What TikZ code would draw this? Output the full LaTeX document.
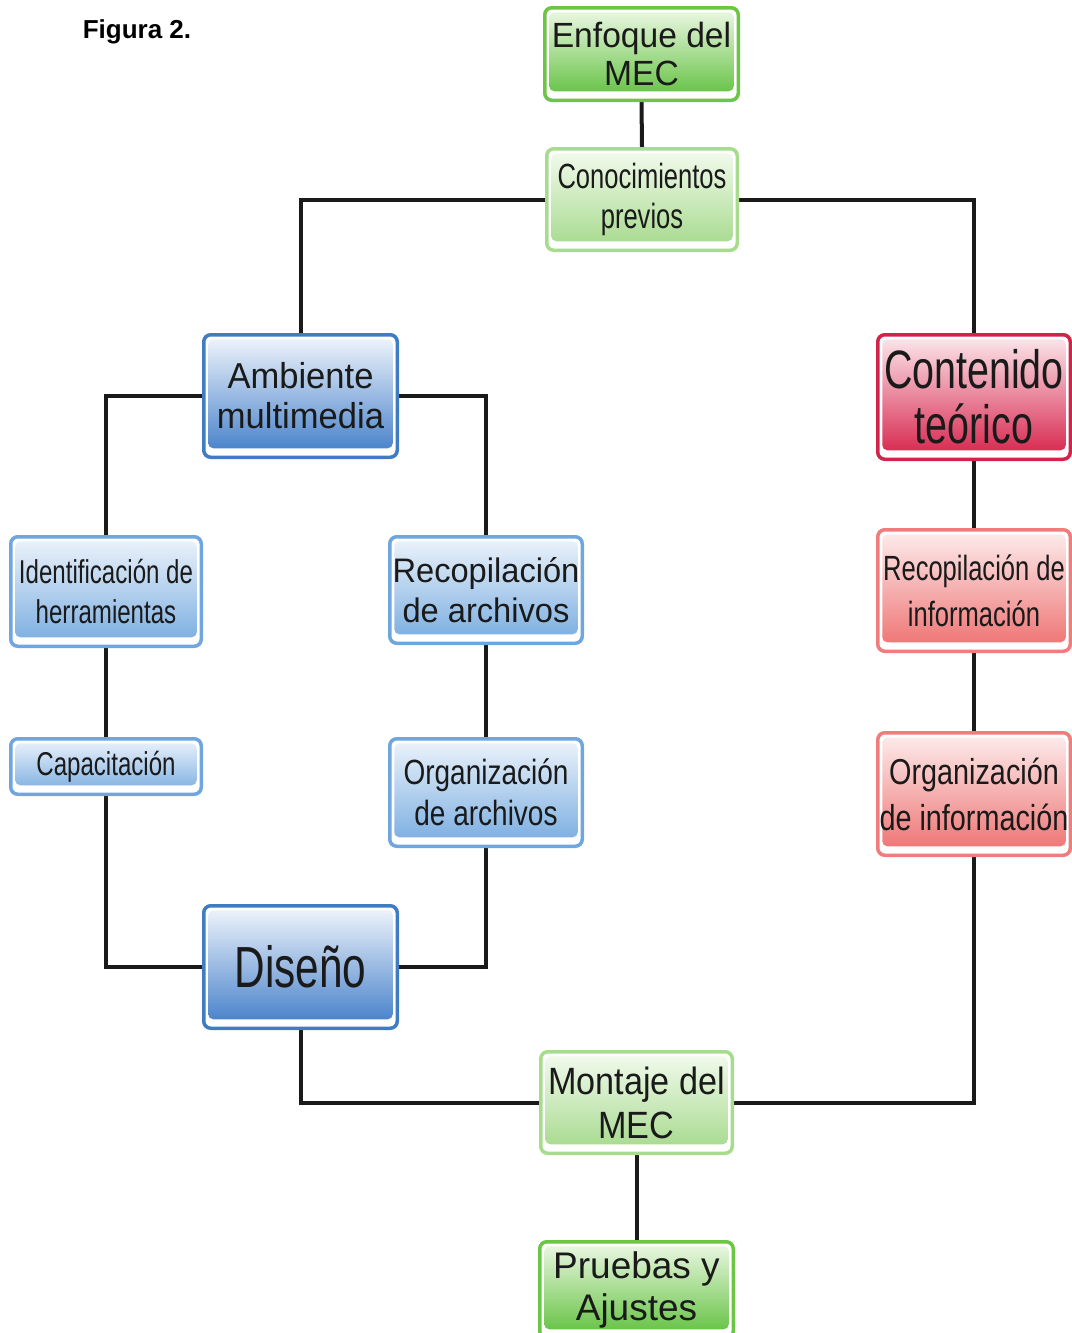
\documentclass[tikz,border=0pt]{standalone}
\usepackage{fontspec}
\setmainfont{Liberation Sans}
\newfontfamily\fA[FakeStretch=0.73]{Liberation Sans}
\newfontfamily\fB[FakeStretch=0.80]{Liberation Sans}
\newfontfamily\fC[FakeStretch=0.90]{Liberation Sans}
\newfontfamily\fD[FakeStretch=0.96]{Liberation Sans}
\usetikzlibrary{backgrounds}
\definecolor{gDb}{HTML}{6CC644}\definecolor{gDt}{HTML}{EEF9E6}\definecolor{gDd}{HTML}{5DBF3A}
\definecolor{gLb}{HTML}{A6DC8C}\definecolor{gLt}{HTML}{F4FBEF}\definecolor{gLd}{HTML}{A3D98A}
\definecolor{bDb}{HTML}{3F7CC4}\definecolor{bDt}{HTML}{F2F6FC}\definecolor{bDd}{HTML}{3F7CC8}
\definecolor{bLb}{HTML}{6FA6DD}\definecolor{bLt}{HTML}{EEF4FB}\definecolor{bLd}{HTML}{76ABE0}
\definecolor{rDb}{HTML}{D2234A}\definecolor{rDt}{HTML}{FCEAEE}\definecolor{rDd}{HTML}{D61F48}
\definecolor{rLb}{HTML}{F07C7C}\definecolor{rLt}{HTML}{FDEEEE}\definecolor{rLd}{HTML}{EE6E6E}
\definecolor{txt}{HTML}{1A1A1A}
\tikzset{
  mbox/.style n args={3}{draw=#1, fill=white, line width=3.5pt, rounded corners=7pt,
    inner sep=0pt, align=center, text=txt,
    path picture={\shade[top color=#2, bottom color=#3, rounded corners=5pt]
      ([xshift=4.5pt,yshift=-4.5pt]path picture bounding box.north west) rectangle
      ([xshift=-4.5pt,yshift=9pt]path picture bounding box.south east);}},
  greenD/.style={mbox={gDb}{gDt}{gDd}},
  greenL/.style={mbox={gLb}{gLt}{gLd}},
  blueD/.style={mbox={bDb}{bDt}{bDd}},
  blueL/.style={mbox={bLb}{bLt}{bLd}},
  redD/.style={mbox={rDb}{rDt}{rDd}},
  redL/.style={mbox={rLb}{rLt}{rLd}},
  link/.style={line width=4pt, draw=txt},
}
\begin{document}
\begin{tikzpicture}[x=1pt,y=-1pt]
\useasboundingbox (0,0) rectangle (1071,1333);
\node[font=\bfseries\fontsize{26}{30}\selectfont, text=black] (fig) at (137,32) {Figura 2.};
\node[greenD, minimum width=193.5pt, minimum height=92.5pt, font=\fD\fontsize{35}{38}\selectfont] (enf) at (641.5,54) {Enfoque del\\MEC};
\node[greenL, minimum width=190.5pt, minimum height=101.5pt, font=\fA\fontsize{35}{40}\selectfont] (con) at (642,199.5) {Conocimientos\\previos};
\node[blueD, minimum width=193.5pt, minimum height=122.5pt, font=\fD\fontsize{36}{40}\selectfont] (amb) at (300.5,396) {Ambiente\\multimedia};
\node[redD, minimum width=192.5pt, minimum height=124.5pt, font=\fA\fontsize{54}{55}\selectfont] (cont) at (974,397) {Contenido\\teórico};
\node[blueL, minimum width=190.5pt, minimum height=109.5pt, font=\fA\fontsize{33}{40}\selectfont] (ide) at (106,591.5) {Identificación de\\herramientas};
\node[blueL, minimum width=190.5pt, minimum height=55.5pt, font=\fA\fontsize{33}{40}\selectfont] (cap) at (106,766.5) {Capacitación};
\node[blueL, minimum width=192.5pt, minimum height=106.5pt, font=\fD\fontsize{34}{40}\selectfont] (rar) at (486,590) {Recopilación\\de archivos};
\node[blueL, minimum width=192.5pt, minimum height=107.5pt, font=\fB\fontsize{35}{41}\selectfont] (oar) at (486,792.5) {Organización\\de archivos};
\node[blueD, minimum width=193.5pt, minimum height=122.5pt, font=\fA\fontsize{58}{60}\selectfont] (dis) at (300.5,967) {Diseño};
\node[redL, minimum width=192.5pt, minimum height=121.5pt, font=\fA\fontsize{35}{46}\selectfont] (rin) at (974,590.5) {Recopilación de\\información};
\node[redL, minimum width=192.5pt, minimum height=122.5pt, font=\fB\fontsize{36}{46}\selectfont] (oin) at (974,794) {Organización\\de información};
\node[greenL, minimum width=191.5pt, minimum height=101.5pt, font=\fC\fontsize{38}{44}\selectfont] (mon) at (636.5,1102.5) {Montaje del\\MEC};
\node[greenD, minimum width=193.5pt, minimum height=96.5pt, font=\fontsize{37}{42}\selectfont] (pru) at (636.5,1290) {Pruebas y\\Ajustes};
\begin{scope}[on background layer]
\draw[link] (enf.south) -- (con.north);
\draw[link] (con.west) -| (amb.north);
\draw[link] (con.east) -| (cont.north);
\draw[link] (amb.west) -| (ide.north);
\draw[link] (amb.east) -| (rar.north);
\draw[link] (ide.south) -- (cap.north);
\draw[link] (cap.south) |- (dis.west);
\draw[link] (rar.south) -- (oar.north);
\draw[link] (oar.south) |- (dis.east);
\draw[link] (dis.south) |- (mon.west);
\draw[link] (cont.south) -- (rin.north);
\draw[link] (rin.south) -- (oin.north);
\draw[link] (oin.south) |- (mon.east);
\draw[link] (mon.south) -- (pru.north);
\end{scope}
\end{tikzpicture}
\end{document}
